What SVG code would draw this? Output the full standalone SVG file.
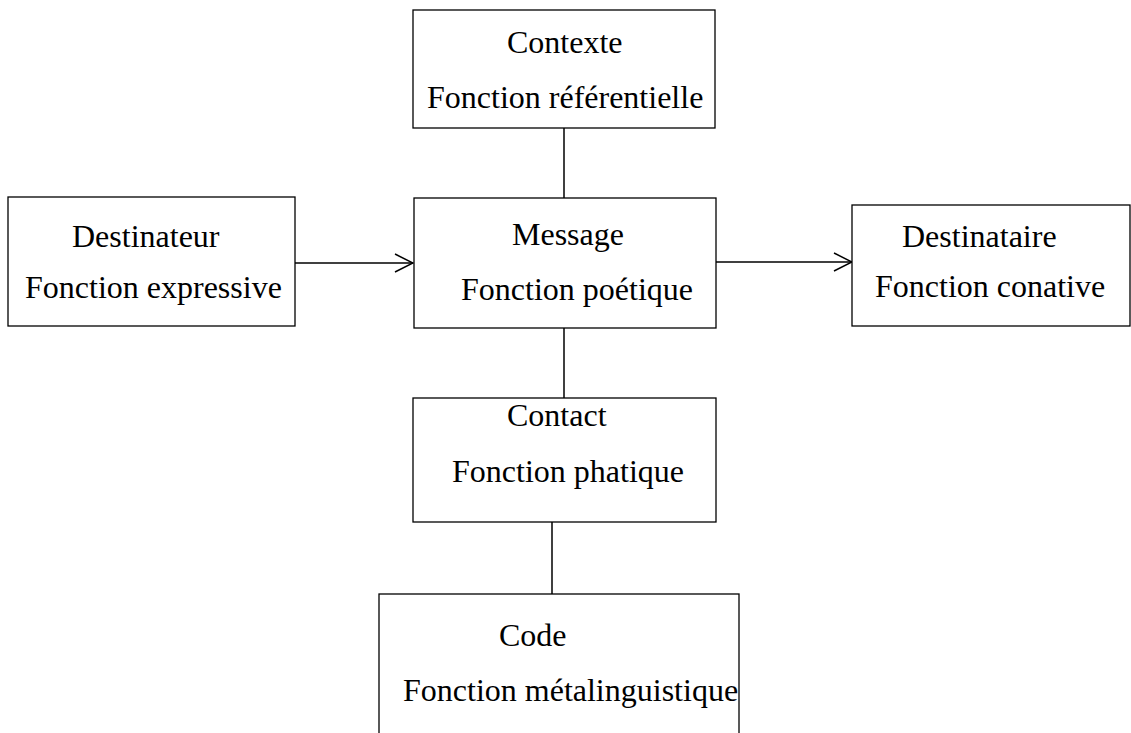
<svg xmlns="http://www.w3.org/2000/svg" width="1131" height="733" viewBox="0 0 1131 733">
<style>
.box{fill:#fff;stroke:#000;stroke-width:1.3}
.t{font-family:"Liberation Serif","Times New Roman",serif;font-size:32px;fill:#000}
.c{stroke:#000;stroke-width:1.5;fill:none}
</style>
<defs>
<marker id="arr" markerWidth="20" markerHeight="22" refX="19" refY="10" orient="auto" markerUnits="userSpaceOnUse">
<path d="M1,1 L19,10 L1,19" fill="none" stroke="#000" stroke-width="1.5"/>
</marker>
</defs>
<rect width="1131" height="733" fill="#fff"/>
<g id="connectors">
<line class="c" x1="564" y1="128" x2="564" y2="198"/>
<line class="c" x1="295" y1="263" x2="413" y2="263" marker-end="url(#arr)"/>
<line class="c" x1="716" y1="262" x2="852" y2="262" marker-end="url(#arr)"/>
<line class="c" x1="564" y1="328" x2="564" y2="398"/>
<line class="c" x1="552" y1="522" x2="552" y2="594"/>
</g>
<g id="contexte">
<rect class="box" x="413" y="10" width="302" height="118"/>
<text class="t" x="507" y="53">Contexte</text>
<text class="t" x="427" y="108">Fonction référentielle</text>
</g>
<g id="destinateur">
<rect class="box" x="8" y="197" width="287" height="129"/>
<text class="t" x="72" y="247">Destinateur</text>
<text class="t" x="25" y="298">Fonction expressive</text>
</g>
<g id="message">
<rect class="box" x="414" y="198" width="302" height="130"/>
<text class="t" x="512" y="245">Message</text>
<text class="t" x="461" y="300">Fonction poétique</text>
</g>
<g id="destinataire">
<rect class="box" x="852" y="205" width="278" height="121"/>
<text class="t" x="902" y="247">Destinataire</text>
<text class="t" x="875" y="297">Fonction conative</text>
</g>
<g id="contact">
<rect class="box" x="413" y="398" width="303" height="124"/>
<text class="t" x="507" y="426">Contact</text>
<text class="t" x="452" y="482">Fonction phatique</text>
</g>
<g id="code">
<rect class="box" x="379" y="594" width="360" height="160"/>
<text class="t" x="499" y="646">Code</text>
<text class="t" x="403" y="701">Fonction métalinguistique</text>
</g>
</svg>
